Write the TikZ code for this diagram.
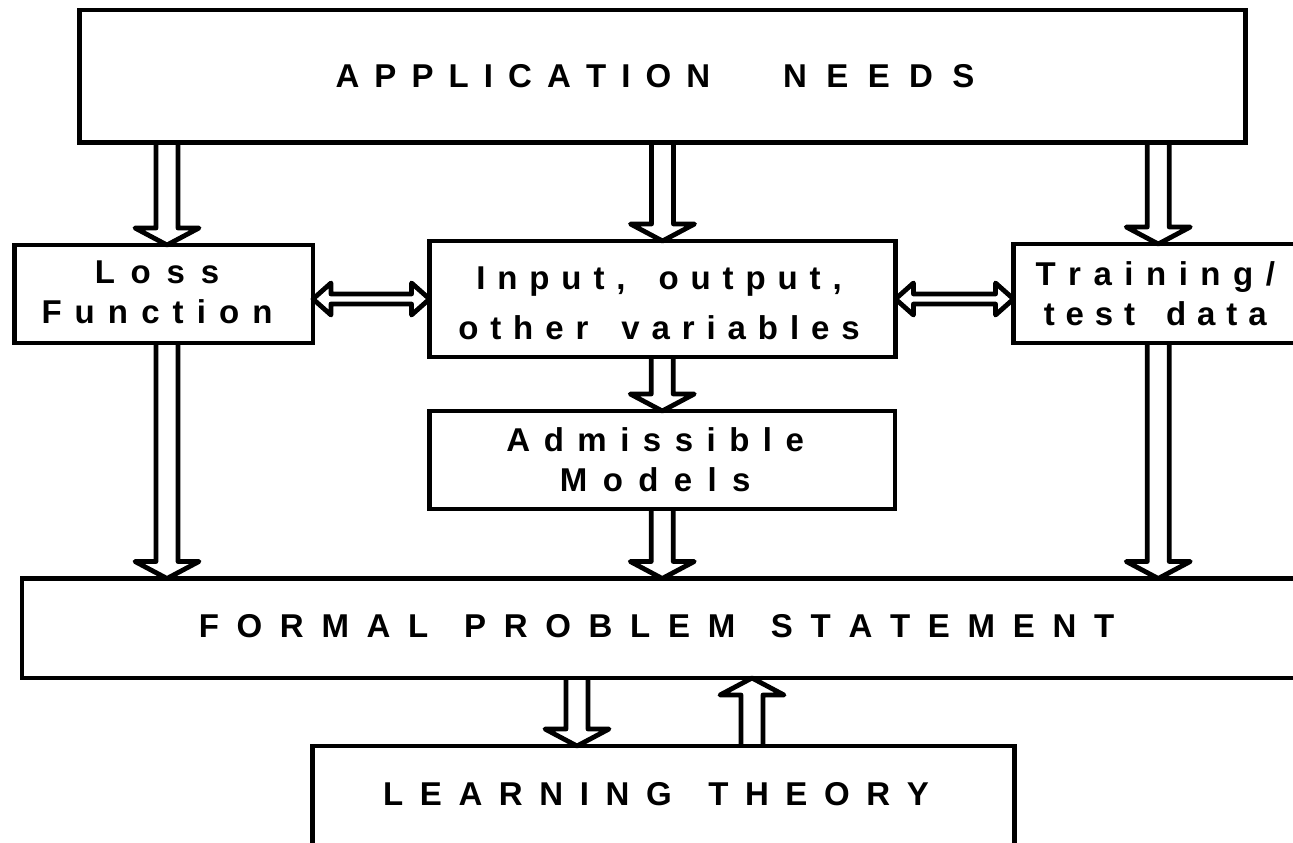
\documentclass[tikz,border=0pt]{standalone}
\usepackage{fontspec}
\setmainfont{Liberation Sans}
\usetikzlibrary{calc}

% letter-spaced text: \spaced{letter kern}{word kern}{letters, with | at a word break}
\makeatletter
\newcommand\spaced[3]{\def\sp@k{#1}\def\sp@w{#2}\sp@first#3\relax}
\def\sp@first#1{#1\sp@rest}
\def\sp@rest#1{\ifx#1\relax\else\ifx#1|\kern\sp@w\relax\else\kern\sp@k\relax#1\fi\expandafter\sp@rest\fi}
\makeatother

% block arrow dimensions
\newcommand\arShaft{11pt}
\newcommand\arHead{32pt}
\newcommand\arLen{17pt}
\newcommand\arShaftH{5pt}
\newcommand\arHeadH{16pt}
\newcommand\arLenH{18pt}

% hollow block arrow pointing down: shaft start, tip
\newcommand\downblock[2]{\draw[blockarrow] let \p1=#1, \p2=#2 in
  (\x1-\arShaft,\y1) -- (\x1-\arShaft,\y2+\arLen) -- (\x1-\arHead,\y2+\arLen) -- (\x1,\y2)
  -- (\x1+\arHead,\y2+\arLen) -- (\x1+\arShaft,\y2+\arLen) -- (\x1+\arShaft,\y1);}
% hollow block arrow pointing up: shaft start, tip
\newcommand\upblock[2]{\draw[blockarrow] let \p1=#1, \p2=#2 in
  (\x1-\arShaft,\y1) -- (\x1-\arShaft,\y2-\arLen) -- (\x1-\arHead,\y2-\arLen) -- (\x1,\y2)
  -- (\x1+\arHead,\y2-\arLen) -- (\x1+\arShaft,\y2-\arLen) -- (\x1+\arShaft,\y1);}
% hollow double-headed horizontal arrow: left tip, right tip
\newcommand\hblock[2]{\draw[blockarrow] let \p1=#1, \p2=#2 in
  (\x1,\y2) -- (\x1+\arLenH,\y2+\arHeadH) -- (\x1+\arLenH,\y2+\arShaftH) -- (\x2-\arLenH,\y2+\arShaftH)
  -- (\x2-\arLenH,\y2+\arHeadH) -- (\x2,\y2) -- (\x2-\arLenH,\y2-\arHeadH) -- (\x2-\arLenH,\y2-\arShaftH)
  -- (\x1+\arLenH,\y2-\arShaftH) -- (\x1+\arLenH,\y2-\arHeadH) -- cycle;}

\begin{document}
\begin{tikzpicture}[x=1pt,y=-1pt,
  box/.style={draw, line width=4.8pt, rectangle, inner sep=0pt, outer sep=0pt},
  blockarrow/.style={draw, line width=4.8pt, line join=round},
  lbl/.style={inner sep=0pt, align=center, font=\fontsize{33pt}{40pt}\selectfont\bfseries}]

\useasboundingbox (0,0) rectangle (1293,843);
\fill[white] (0,0) rectangle (1293,843);
\clip (0,0) rectangle (1293,843);

% boxes
\node[box, minimum width=1166pt, minimum height=132.5pt] (top) at (662.5,76.25) {};
\node[box, minimum width=298.5pt, minimum height=98pt] (loss) at (163.75,294) {};
\node[box, minimum width=466pt, minimum height=116pt] (inout) at (662.5,299) {};
\node[box, minimum width=289.5pt, minimum height=99pt] (train) at (1158.25,293.5) {};
\node[box, minimum width=465.5pt, minimum height=98pt] (adm) at (662.25,460) {};
\node[box, minimum width=1283pt, minimum height=99.5pt] (formal) at (663.5,628.25) {};
\node[box, minimum width=702pt, minimum height=102pt] (learn) at (663.5,797) {};

% arrow anchor points
\coordinate (lossx) at ([xshift=3.25pt]loss.north);
\coordinate (lossy) at ([xshift=3.25pt]loss.south);
\coordinate (ltdown) at ([xshift=-86.5pt]learn.north);
\coordinate (ltup) at ([xshift=88.5pt]learn.north);

% vertical block arrows
\downblock{(top.south -| lossx)}{(lossx)}
\downblock{(top.south -| inout.north)}{(inout.north)}
\downblock{(top.south -| train.north)}{(train.north)}
\downblock{(adm.north |- inout.south)}{(adm.north)}
\downblock{(lossy)}{(lossy |- formal.north)}
\downblock{(adm.south)}{(adm.south |- formal.north)}
\downblock{(train.south)}{(train.south |- formal.north)}
\downblock{(formal.south -| ltdown)}{(ltdown)}
\upblock{(ltup)}{(formal.south -| ltup)}

% horizontal double arrows
\hblock{(loss.east |- inout.west)}{(inout.west)}
\hblock{(inout.east)}{(train.west |- inout.east)}

% box texts
\node[lbl] (toptext) at ([xshift=-7.5pt,yshift=0.5pt]top.center)
  {\spaced{15.1pt}{0pt}{APPLICATION}\hspace{73pt}\spaced{19.4pt}{0pt}{NEEDS}};
\node[lbl] (losstext) at ([xshift=-6.75pt,yshift=2pt]loss.center)
  {\spaced{15.8pt}{0pt}{Loss}\\\spaced{13.1pt}{0pt}{Function}};
\node[lbl, font=\fontsize{33pt}{50pt}\selectfont\bfseries] (inouttext) at ([xshift=-3.5pt,yshift=-4pt]inout.center)
  {\spaced{11.9pt}{21.1pt}{Input,|output,}\\\spaced{11.9pt}{21.1pt}{other|variables}};
\node[lbl] (admtext) at ([xshift=-7pt]adm.center)
  {\spaced{13.5pt}{0pt}{Admissible}\\\spaced{15.4pt}{0pt}{Models}};
\node[lbl] (traintext) at ([xshift=-3pt]train.center)
  {\spaced{12.5pt}{0pt}{Training/}\\\spaced{10.9pt}{20.1pt}{test|data}};
\node[lbl] (formaltext) at ([xshift=-7pt,yshift=1.75pt]formal.center)
  {\spaced{17.7pt}{18pt}{FORMAL|PROBLEM|STATEMENT}};
\node[lbl] (learntext) at ([xshift=-7.5pt,yshift=2.5pt]learn.center)
  {\spaced{16.6pt}{20pt}{LEARNING|THEORY}};
\end{tikzpicture}
\end{document}
